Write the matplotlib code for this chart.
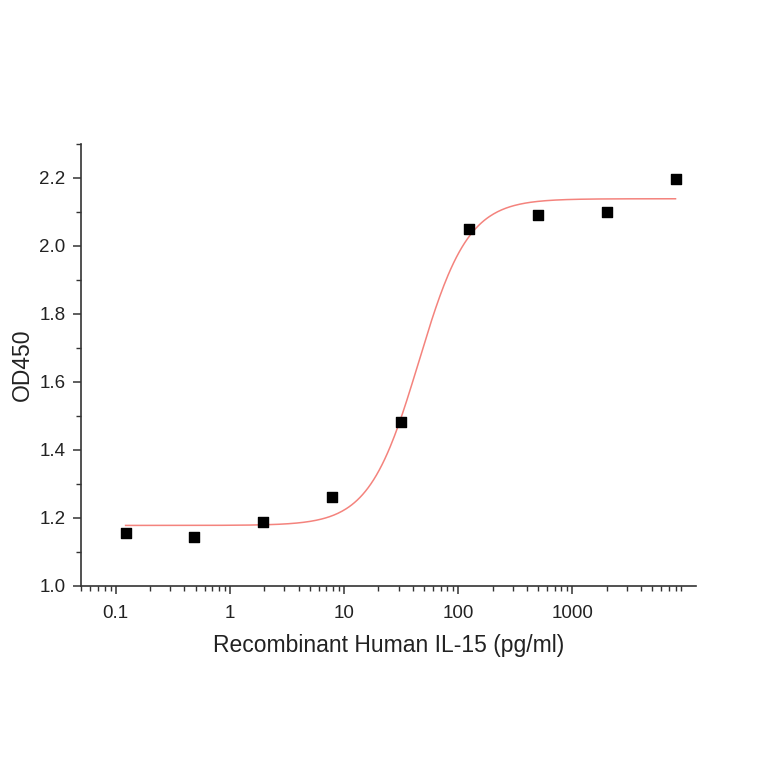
import numpy as np
import matplotlib
matplotlib.use("Agg")
import matplotlib.pyplot as plt
from matplotlib.ticker import LogLocator, MultipleLocator, FixedLocator, FixedFormatter

# measured points
conc = [0.122, 0.488, 1.95, 7.8, 31.25, 125, 500, 2000, 8000]
od450 = [1.157, 1.145, 1.188, 1.262, 1.482, 2.050, 2.090, 2.098, 2.197]

# four-parameter logistic fit, parameters
fit_bottom = 1.178
fit_top = 2.138
fit_ec50 = 45.0
fit_hill = 2.0

x_ticks = [0.1, 1, 10, 100, 1000]
x_ticklabels = ["0.1", "1", "10", "100", "1000"]

plt.rcParams['font.family'] = ['Liberation Sans', 'DejaVu Sans']

fig = plt.figure(figsize=(7.64, 7.64), dpi=100)
ax = fig.add_axes([0.1065, 0.233, 0.804, 0.579])

xs = np.logspace(np.log10(conc[0]), np.log10(conc[-1]), 400)
ys = fit_bottom + (fit_top - fit_bottom) / (1 + (fit_ec50 / xs) ** fit_hill)
ax.plot(xs, ys, color="#f4837d", lw=1.1, zorder=2)
ax.scatter(conc, od450, marker="s", s=55, color="black", zorder=3)

ax.set_xscale("log")
ax.set_xlim(0.05, 12000)
ax.set_ylim(1.0, 2.3)
ax.xaxis.set_major_locator(FixedLocator(x_ticks))
ax.xaxis.set_major_formatter(FixedFormatter(x_ticklabels))
ax.xaxis.set_minor_locator(LogLocator(base=10, subs=np.arange(2, 10), numticks=20))
ax.yaxis.set_major_locator(MultipleLocator(0.2))
ax.yaxis.set_minor_locator(MultipleLocator(0.1))
ax.yaxis.set_major_formatter(plt.FormatStrFormatter("%.1f"))

for s in ["top", "right"]:
    ax.spines[s].set_visible(False)
for s in ["left", "bottom"]:
    ax.spines[s].set_color("#333333")
    ax.spines[s].set_linewidth(1.2)

ax.tick_params(which="major", direction="out", length=5.5, width=1.1, pad=8,
               labelsize=13.5, colors="#333333", labelcolor="#222222")
ax.tick_params(axis="y", which="major", pad=6)
ax.tick_params(which="minor", direction="out", length=3.5, width=1.0, colors="#333333")

ax.set_xlabel("Recombinant Human IL-15 (pg/ml)", fontsize=16.5, color="#222222", labelpad=9)
ax.set_ylabel("OD450", fontsize=16.5, color="#222222", labelpad=4)

fig.savefig("out.png", dpi=100)
